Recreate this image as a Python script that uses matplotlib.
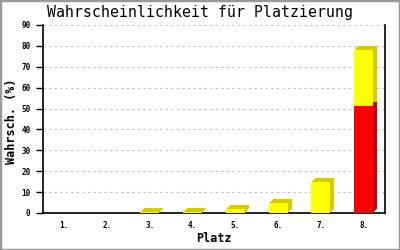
import matplotlib
matplotlib.use("Agg")
import matplotlib.pyplot as plt
import matplotlib.transforms as mtransforms
from matplotlib.patches import Rectangle
import numpy as np

categories = ["1.", "2.", "3.", "4.", "5.", "6.", "7.", "8."]
red_vals = [0, 0, 0, 0, 0, 0, 0, 51]
yellow_vals = [0, 0, 0.5, 0.5, 2, 5, 15, 27]
yticks = [0, 10, 20, 30, 40, 50, 60, 70, 80, 90]

mono = "DejaVu Sans Mono"
fig = plt.figure(figsize=(4, 2.5), dpi=100)
ax = fig.add_axes([43/400, 1-213/250, (385-43)/400, (213-25)/250])

x = np.arange(len(categories))
w = 0.44
red = np.array(red_vals)
yel = np.array(yellow_vals)

for k in range(1, 5):
    off = mtransforms.offset_copy(ax.transData, fig=fig, x=k, y=k, units='dots')
    ax.bar(x, red, w, color="#cc0000", transform=off, zorder=2, linewidth=0)
    ax.bar(x, yel, w, bottom=red, color="#d4cc00", transform=off, zorder=2, linewidth=0)
ax.bar(x, red, w, color="#ff0000", zorder=3, linewidth=0)
ax.bar(x, yel, w, bottom=red, color="#ffff00", zorder=3, linewidth=0)

ax.set_xlim(-0.5, len(categories) - 0.5)
ax.set_ylim(0, 90)
ax.set_yticks(yticks)
ax.set_yticklabels([str(t) for t in yticks], fontsize=5.5, family=mono, fontweight="bold")
ax.set_xticks(x)
ax.set_xticklabels(categories, fontsize=5.5, family=mono, fontweight="bold")
ax.tick_params(axis='x', length=0, pad=6)
ax.tick_params(axis='y', length=5, width=1, pad=4)
ax.yaxis.grid(True, linestyle=(0, (2, 3)), color="#c0c0c0", linewidth=0.8, zorder=0)
ax.set_axisbelow(True)
for s in ["left", "bottom", "right"]:
    ax.spines[s].set_linewidth(1.2)
    ax.spines[s].set_color("black")
ax.spines["top"].set_visible(False)

fig.text(214/400, 1-238/250, "Platz", ha="center", va="center",
         fontsize=8.5, family=mono, fontweight="bold")
fig.text(12/400, 1-121/250, "Wahrsch. (%)", ha="center", va="center", rotation=90,
         fontsize=8.5, family=mono, fontweight="bold")
fig.text(200/400, 1-13/250, "Wahrscheinlichkeit für Platzierung", ha="center", va="center",
         fontsize=10.7, family=mono)

fig.patches.append(Rectangle((0, 0), 1, 1, transform=fig.transFigure, fill=False,
                             edgecolor="#999999", linewidth=2.5))
fig.savefig("out.png", dpi=100)
